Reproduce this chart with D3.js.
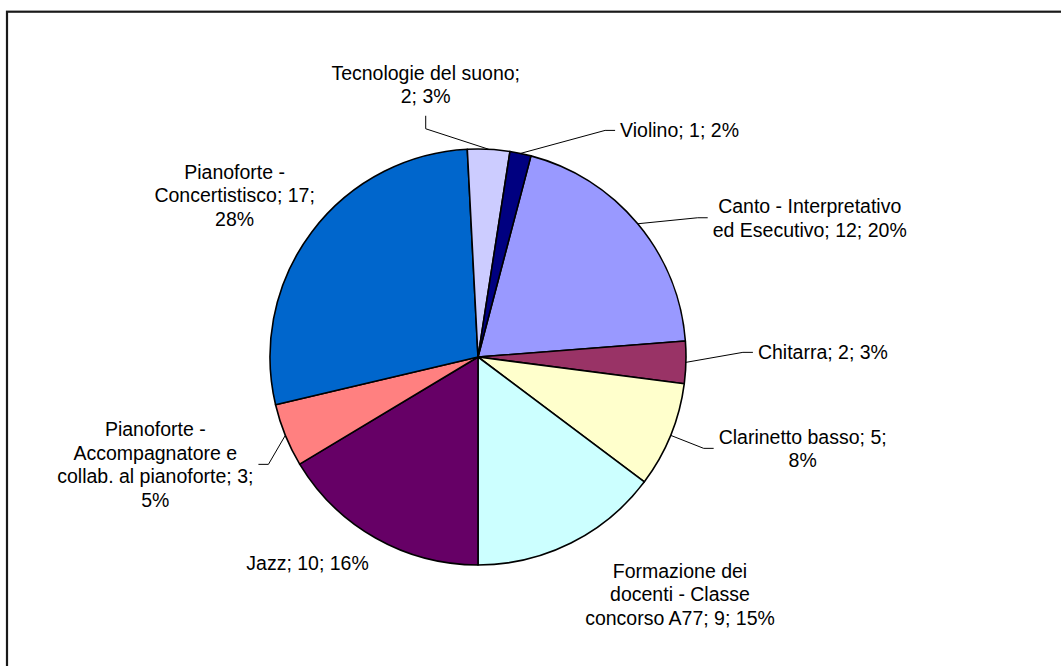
<!DOCTYPE html>
<html>
<head>
<meta charset="utf-8">
<script src="https://cdn.jsdelivr.net/npm/d3@7"></script>
<style>
  body { margin: 0; background: #fff; }
  text { font-family: "Liberation Sans", Arial, sans-serif; font-size: 19.5px; fill: #000; }
</style>
</head>
<body>
<svg id="chart" width="1061" height="666"></svg>
<script>
const categories = [
    "Canto - Interpretativo ed Esecutivo",
    "Chitarra",
    "Clarinetto basso",
    "Formazione dei docenti - Classe concorso A77",
    "Jazz",
    "Pianoforte - Accompagnatore e collab. al pianoforte",
    "Pianoforte - Concertistisco",
    "Tecnologie del suono",
    "Violino"
];
const values = [12, 2, 5, 9, 10, 3, 17, 2, 1];
const colors = ["#9999FF", "#993366", "#FFFFCC", "#CCFFFF", "#660066", "#FF8080", "#0066CC", "#CCCCFF", "#000080"];

// words per label line (how Excel wrapped each label)
const lineWords = [[3, 4], [3], [3, 1], [2, 3, 4], [3], [2, 2, 4, 1], [2, 2, 1], [3, 2], [3]];
// label centre offset from the slice's outer midpoint, and where the leader attaches
const labelOffset = [[172, -6], [137, -10], [132, 13], [109, 51], [-68, 25], [-130, 29], [-77, -37], [-63, -65], [159, -23]];
const leaderSide = ["left", "left", "left", null, null, "right", null, "bottom", "left"];

const cx = 478, cy = 357, radius = 208, lineH = 23.5;

const svg = d3.select("#chart");

// frame, cut off at right and bottom as in the original
svg.append("rect")
    .attr("x", 7).attr("y", 11.7)
    .attr("width", 1200).attr("height", 1000)
    .attr("fill", "none")
    .attr("stroke", "#1a1a1a")
    .attr("stroke-width", 2.2);

const total = d3.sum(values);
// Jazz starts at 6 o'clock
const before = d3.sum(values.slice(0, 4));
const start = Math.PI - before / total * 2 * Math.PI;

const pie = d3.pie().sort(null).startAngle(start).endAngle(start + 2 * Math.PI);
const arcs = pie(values);
const arc = d3.arc().innerRadius(0).outerRadius(radius);

const g = svg.append("g").attr("transform", `translate(${cx},${cy})`);

g.selectAll("path.slice")
    .data(arcs)
    .enter()
    .append("path")
    .attr("class", "slice")
    .attr("d", arc)
    .attr("fill", (d, i) => colors[i])
    .attr("stroke", "#000")
    .attr("stroke-width", 1.6)
    .attr("stroke-linejoin", "round");

// labels
const labels = svg.append("g");
const leaders = svg.append("g");

arcs.forEach((d, i) => {
    const a = (d.startAngle + d.endAngle) / 2;
    const px = cx + radius * Math.sin(a);
    const py = cy - radius * Math.cos(a);
    const lx = px + labelOffset[i][0];
    const m = py + labelOffset[i][1];

    const pct = Math.round(values[i] / total * 100);
    const words = `${categories[i]}; ${values[i]}; ${pct}%`.split(" ");
    const lines = [];
    let k = 0;
    lineWords[i].forEach(n => {
        lines.push(words.slice(k, k + n).join(" "));
        k += n;
    });

    const n = lines.length;
    const t = labels.append("text").attr("text-anchor", "middle");
    let w = 0;
    lines.forEach((line, j) => {
        const ts = t.append("tspan")
            .attr("x", lx)
            .attr("y", m - (n - 1) * lineH / 2 + j * lineH + 7)
            .text(line);
        w = Math.max(w, ts.node().getComputedTextLength());
    });

    const side = leaderSide[i];
    if (!side) return;
    let end, elbow;
    if (side === "left") {
        end = [lx - w / 2 - 5, m];
        elbow = [end[0] - 10, m];
    } else if (side === "right") {
        end = [lx + w / 2 + 5, m];
        elbow = [end[0] + 10, m];
    } else {
        end = [lx, m + n * lineH / 2 + 8];
        elbow = [lx, end[1] + 13];
    }
    leaders.append("path")
        .attr("d", d3.line()([[px, py], elbow, end]))
        .attr("fill", "none")
        .attr("stroke", "#000")
        .attr("stroke-width", 1);
});
</script>
</body>
</html>
